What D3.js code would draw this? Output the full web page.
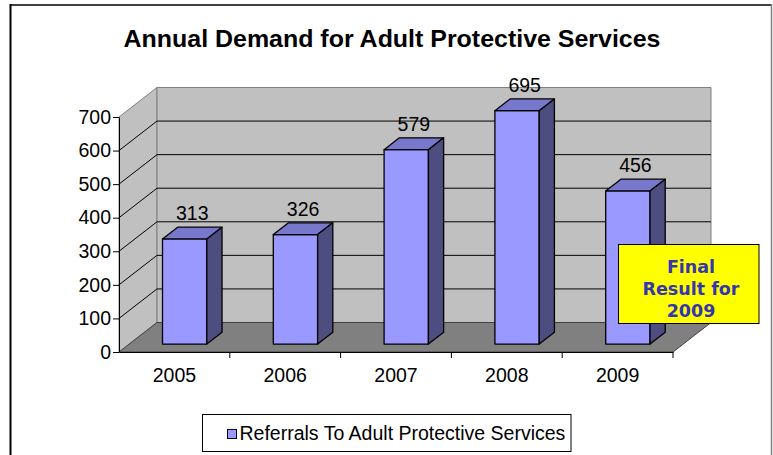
<!DOCTYPE html>
<html>
<head>
<meta charset="utf-8">
<script src="https://cdn.jsdelivr.net/npm/d3@7/dist/d3.min.js"></script>
<style>
  html, body { margin: 0; padding: 0; background: #ffffff; }
  svg { display: block; }
</style>
</head>
<body>
<svg id="chart" width="773" height="455"></svg>
<script>
// ---- data ----
const years = ["2005", "2006", "2007", "2008", "2009"];
const referrals = [313, 326, 579, 695, 456];
const yTicks = [0, 100, 200, 300, 400, 500, 600, 700];
const titleText = "Annual Demand for Adult Protective Services";
const seriesName = "Referrals To Adult Protective Services";
const noteLines = ["Final", "Result for", "2009"];

// ---- layout ----
const W = 773, H = 455;
const svg = d3.select("#chart");
const DX = 38, DY = 29.5;          // depth of the 3D box
const Z0 = 0.27, Z1 = 0.67;        // bar depth (fraction)
const x = d3.scaleBand().domain(years).range([119, 673]).paddingInner(0).paddingOuter(0);
const y = d3.scaleLinear().domain([0, 700]).range([352, 117]);
const barFrac = 0.40;
const font = "Arial, 'Liberation Sans', Helvetica, sans-serif";

// outer border
svg.append("line").attr("x1", 10).attr("y1", 5).attr("x2", 772).attr("y2", 5)
  .attr("stroke", "#404040").attr("stroke-width", 2);
svg.append("line").attr("x1", 10.5).attr("y1", 4).attr("x2", 10.5).attr("y2", H)
  .attr("stroke", "#000").attr("stroke-width", 2);
svg.append("line").attr("x1", 771.5).attr("y1", 4).attr("x2", 771.5).attr("y2", H)
  .attr("stroke", "#808080").attr("stroke-width", 1.5);

// title
svg.append("text")
  .attr("transform", `translate(392,47) scale(1.04,1)`)
  .attr("text-anchor", "middle")
  .attr("font-family", font).attr("font-weight", "bold").attr("font-size", 24)
  .attr("fill", "#000").text(titleText);

const x0 = x.range()[0], x1 = x.range()[1];
const yTop = y(700), yBot = y(0);
const P = (px, py, z) => [px + z * DX, py - z * DY];
const poly = pts => pts.map(p => p.join(",")).join(" ");

// side wall
svg.append("polygon")
  .attr("points", poly([P(x0, yBot, 0), P(x0, yTop, 0), P(x0, yTop, 1), P(x0, yBot, 1)]))
  .attr("fill", "#C0C0C0").attr("stroke", "#808080").attr("stroke-width", 1);
// back wall
svg.append("polygon")
  .attr("points", poly([P(x0, yBot, 1), P(x0, yTop, 1), P(x1, yTop, 1), P(x1, yBot, 1)]))
  .attr("fill", "#C0C0C0").attr("stroke", "#808080").attr("stroke-width", 1);
// floor
svg.append("polygon")
  .attr("points", poly([P(x0, yBot, 0), P(x1, yBot, 0), P(x1, yBot, 1), P(x0, yBot, 1)]))
  .attr("fill", "#808080").attr("stroke", "#404040").attr("stroke-width", 1);

// gridlines
const inner = yTicks.filter(t => t > 0 && t < 700);
const grid = svg.append("g").attr("stroke", "#000").attr("stroke-width", 1);
inner.forEach(t => {
  const a = P(x0, y(t), 0), b = P(x0, y(t), 1), c = P(x1, y(t), 1);
  grid.append("line").attr("x1", a[0]).attr("y1", a[1]).attr("x2", b[0]).attr("y2", b[1]);
  grid.append("line").attr("x1", b[0]).attr("y1", b[1]).attr("x2", c[0]).attr("y2", c[1]);
});

// bars
const bars = svg.append("g").attr("stroke", "#000").attr("stroke-width", 1.3).attr("stroke-linejoin", "round");
years.forEach((yr, i) => {
  const v = referrals[i];
  const cx = x(yr) + x.bandwidth() / 2;
  const hw = x.bandwidth() * barFrac / 2;
  const l = cx - hw, r = cx + hw, t = y(v), b = y(0);
  const g = bars.append("g");
  g.append("polygon").attr("points", poly([P(l, b, Z0), P(r, b, Z0), P(r, t, Z0), P(l, t, Z0)])).attr("fill", "#9999FF");
  g.append("polygon").attr("points", poly([P(l, t, Z0), P(r, t, Z0), P(r, t, Z1), P(l, t, Z1)])).attr("fill", "#7777CC");
  g.append("polygon").attr("points", poly([P(r, b, Z0), P(r, b, Z1), P(r, t, Z1), P(r, t, Z0)])).attr("fill", "#4D4D80");
});

// data labels
const zm = (Z0 + Z1) / 2;
svg.append("g").selectAll("text").data(years).join("text")
  .attr("x", d => x(d) + x.bandwidth() / 2 + zm * DX)
  .attr("y", (d, i) => y(referrals[i]) - 27)
  .attr("text-anchor", "middle")
  .attr("font-family", font).attr("font-size", 19.5).attr("fill", "#000")
  .text((d, i) => referrals[i]);

// y axis
const yAxis = d3.axisLeft(y).tickValues(yTicks).tickSize(6).tickPadding(2).tickSizeOuter(0);
const ya = svg.append("g").attr("transform", `translate(${x0},0)`).call(yAxis);
ya.select(".domain").attr("stroke", "#000");
ya.selectAll("line").attr("stroke", "#000");
ya.selectAll("text").attr("font-family", font).attr("font-size", 19.5).attr("fill", "#000");

// x axis
const xAxis = d3.axisBottom(x).tickSize(0).tickPadding(16).tickSizeOuter(0);
const xa = svg.append("g").attr("transform", `translate(0,${yBot})`).call(xAxis);
xa.select(".domain").attr("stroke", "#000");
xa.selectAll("text").attr("font-family", font).attr("font-size", 19.5).attr("fill", "#000");
// category boundary ticks
xa.selectAll(".bt").data(years).join("line").attr("class", "bt")
  .attr("x1", d => x(d) + x.bandwidth()).attr("x2", d => x(d) + x.bandwidth())
  .attr("y1", 0).attr("y2", 6).attr("stroke", "#000");

// annotation box
const note = svg.append("g");
note.append("rect").attr("x", 618.5).attr("y", 244.5).attr("width", 140.5).attr("height", 79)
  .attr("fill", "#FFFF00").attr("stroke", "#000").attr("stroke-width", 1);
note.selectAll("text").data(noteLines).join("text")
  .attr("x", 691).attr("y", (d, i) => 273 + i * 21.8)
  .attr("text-anchor", "middle")
  .attr("font-family", "'DejaVu Sans', Verdana, sans-serif").attr("font-weight", "bold")
  .attr("font-size", 17.5).attr("fill", "#3535B0")
  .text(d => d);

// legend
const lg = svg.append("g");
lg.append("rect").attr("x", 202.5).attr("y", 414.5).attr("width", 368.5).attr("height", 37)
  .attr("fill", "#fff").attr("stroke", "#000").attr("stroke-width", 1);
lg.append("rect").attr("x", 227.5).attr("y", 429.5).attr("width", 9).attr("height", 9)
  .attr("fill", "#9999FF").attr("stroke", "#000").attr("stroke-width", 1);
lg.append("text").attr("x", 239.5).attr("y", 440)
  .attr("font-family", font).attr("font-size", 19.5).attr("fill", "#000").text(seriesName);
</script>
</body>
</html>
